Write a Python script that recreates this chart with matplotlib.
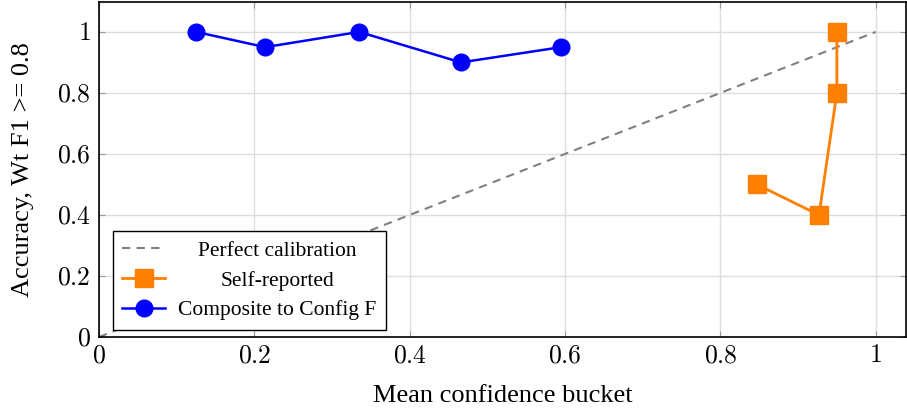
import matplotlib
matplotlib.use("Agg")
import matplotlib.pyplot as plt
from matplotlib.transforms import Affine2D

plt.rcParams['font.family'] = ['Liberation Serif', 'DejaVu Serif']
plt.rcParams['mathtext.fontset'] = 'cm'

calib_x = [0, 1]
calib_y = [0, 1]
self_x = [0.847, 0.927, 0.950, 0.950]
self_y = [0.5, 0.4, 0.8, 1.0]
comp_x = [0.125, 0.214, 0.335, 0.466, 0.595]
comp_y = [1.0, 0.95, 1.0, 0.9, 0.95]
xticks = [0, 0.2, 0.4, 0.6, 0.8, 1]
yticks = [0, 0.2, 0.4, 0.6, 0.8, 1]
tick_labels = ['0', '0.2', '0.4', '0.6', '0.8', '1']

fig = plt.figure(figsize=(9.07, 4.08), dpi=100)
ax = fig.add_axes([99/907, 71/408, (906-99)/907, (337-2)/408])

ax.plot(calib_x, calib_y, linestyle=(0, (4, 3)), color='#808080', lw=1.5, label='Perfect calibration')
ax.plot(self_x, self_y, color='#ff7f00', marker='s', markersize=13, lw=2, label='Self-reported')
ax.plot(comp_x, comp_y, color='#0000ff', marker='o', markersize=12, lw=1.8, label='Composite to Config F')

ax.set_xlim(0, 1.039)
ax.set_ylim(0, 1.098)
ax.set_xticks(xticks)
ax.set_yticks(yticks)
ax.set_xticklabels(['$' + t + '$' for t in tick_labels])
ax.set_yticklabels(['$' + t + '$' for t in tick_labels])
ax.grid(True, color='#dddddd', lw=1)
ax.set_axisbelow(True)
ax.tick_params(direction='in', top=True, right=True, labelsize=18.5, length=4, color='#999999', pad=6)
for s in ax.spines.values():
    s.set_linewidth(1.2)
ax.set_xlabel('Mean confidence bucket', fontsize=19, labelpad=13)
ax.set_ylabel('Accuracy, Wt F1 >= 0.8', fontsize=19, labelpad=16)

leg = ax.legend(loc='lower left', bbox_to_anchor=(0.017, 0.021), fontsize=15.5, frameon=True,
                fancybox=False, edgecolor='black', framealpha=1, handlelength=2.0, borderpad=0.45,
                labelspacing=0.45, handletextpad=0.6, borderaxespad=0)
leg.get_frame().set_linewidth(1.0)

# center legend texts within their column (pgfplots style)
fig.canvas.draw()
r = fig.canvas.get_renderer()
texts = leg.get_texts()
widths = [t.get_window_extent(r).width for t in texts]
mw = max(widths)
for t, w in zip(texts, widths):
    t.set_transform(t.get_transform() + Affine2D().translate((mw - w) / 2, 0))

fig.savefig('out.png', dpi=100)
